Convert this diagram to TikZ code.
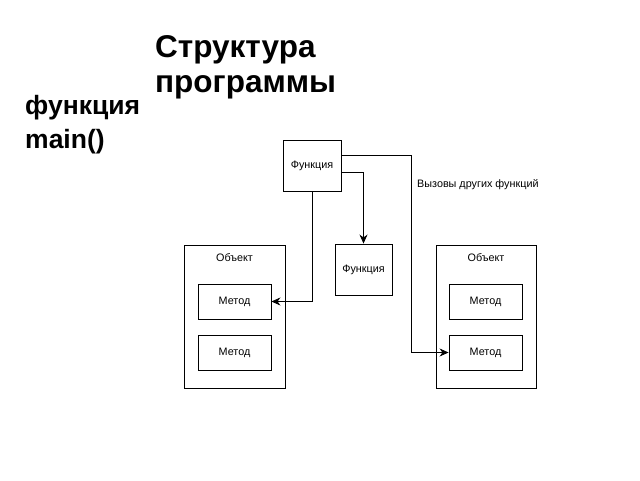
\documentclass[tikz,border=0pt]{standalone}
\usepackage{fontspec}
\setmainfont{Liberation Sans}
\usetikzlibrary{arrows.meta}
\begin{document}
\begin{tikzpicture}[x=1pt,y=-1pt,
  box/.style={draw,line width=0.9pt,rectangle,inner sep=0pt,font=\fontsize{10.8}{12}\selectfont},
  conn/.style={line width=0.9pt},
  arr/.style={conn,-{Stealth[length=9pt,width=8pt]}},
  small/.style={font=\fontsize{10.8}{12}\selectfont,inner sep=0pt},
  big/.style={font=\fontsize{31.5}{34}\selectfont\bfseries,inner sep=0pt,anchor=base west},
  mid/.style={font=\fontsize{26.5}{28}\selectfont\bfseries,inner sep=0pt,anchor=base west}]
\useasboundingbox (0,0) rectangle (640,480);
% titles
\node[big] (t1) at (155,57) {Структура};
\node[big] (t2) at (155,92) {программы};
\node[mid] (t3) at (25,114) {функция};
\node[mid] (t4) at (25,148) {main()};
% boxes
\node[box,minimum width=58pt,minimum height=51pt] (f1) at (312,165.5) {Функция};
\node[box,minimum width=57pt,minimum height=51pt] (f2) at (363.5,269.5) {Функция};
\node[box,minimum width=101pt,minimum height=143pt] (o1) at (234.5,316.5) {};
\node[box,minimum width=100pt,minimum height=143pt] (o2) at (486,316.5) {};
\node[small] (l1) at (234.5,258) {Объект};
\node[small] (l2) at (486,258) {Объект};
\node[box,minimum width=73pt,minimum height=35pt] (m1) at (234.5,301.5) {Метод};
\node[box,minimum width=73pt,minimum height=35pt] (m2) at (234.5,352.5) {Метод};
\node[box,minimum width=73pt,minimum height=35pt] (m3) at (485.5,301.5) {Метод};
\node[box,minimum width=73pt,minimum height=35pt] (m4) at (485.5,352.5) {Метод};
\node[small,anchor=base west] (lab) at (417,187) {Вызовы других функций};
% connectors
\coordinate (c1) at (411,155);
\draw[arr] (f1.south) |- (m1.east);
\draw[arr] ([yshift=-7pt]f1.east) -| (f2.north);
\draw[arr] ([yshift=10.5pt]f1.east) -- (c1) |- (m4.west);
\end{tikzpicture}
\end{document}
